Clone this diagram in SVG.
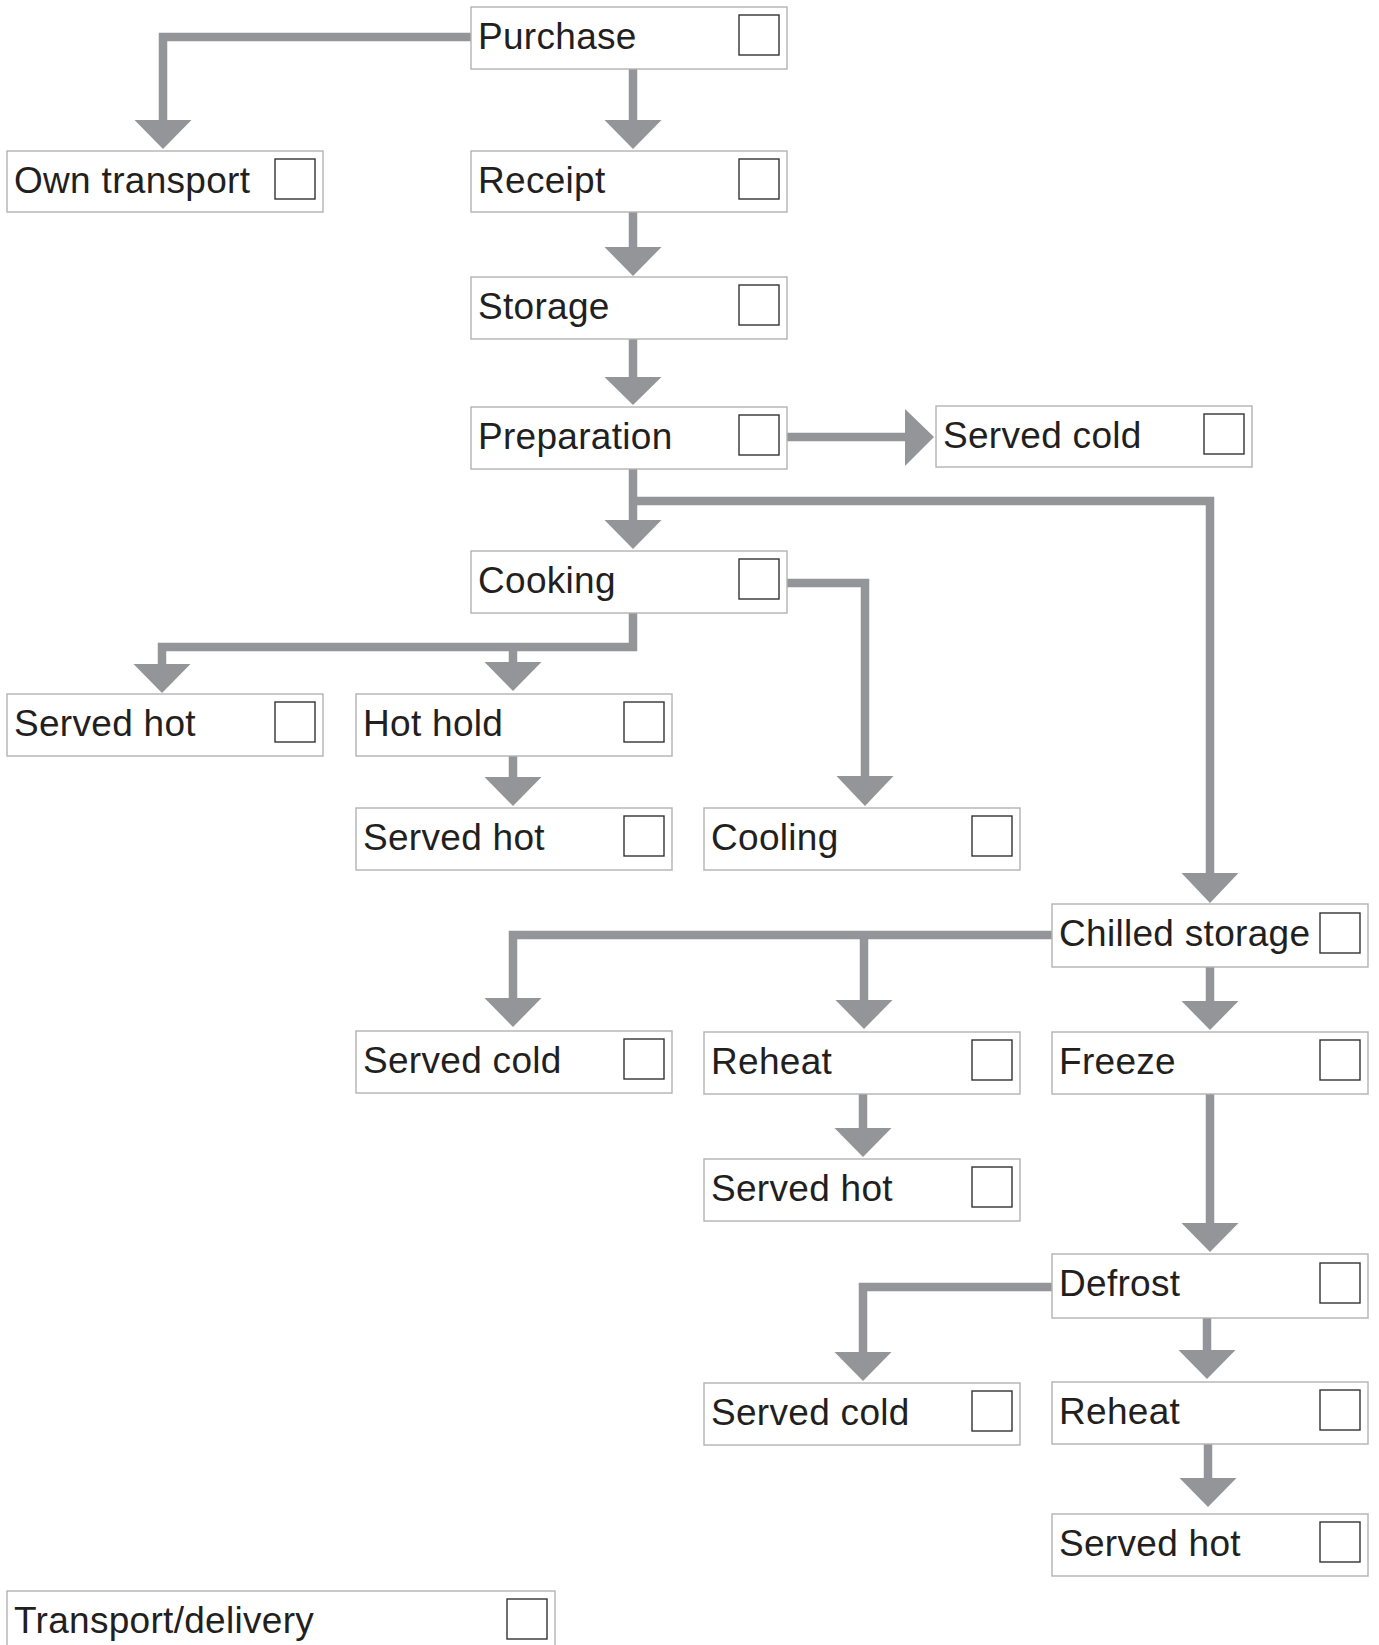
<svg xmlns="http://www.w3.org/2000/svg" width="1379" height="1645" viewBox="0 0 1379 1645">
<style>
.box{fill:#fff;stroke:#b3b3b3;stroke-width:1.4}
.chk{fill:#fff;stroke:#333;stroke-width:1.4}
.lbl{font-family:"Liberation Sans",Arial,sans-serif;font-size:37px;letter-spacing:0.3px;fill:#231f20}
.ln{fill:none;stroke:#939598;stroke-width:8.5;stroke-linejoin:miter}
.ah{fill:#939598}
</style>
<rect width="1379" height="1645" fill="#fff"/>
<g id="connectors">
<path class="ln" d="M471,37 H163 V121"/><polygon class="ah" points="134.5,120 191.5,120 163,149"/>
<path class="ln" d="M633,69 V121"/><polygon class="ah" points="604.5,120 661.5,120 633,149"/>
<path class="ln" d="M633,212 V248"/><polygon class="ah" points="604.5,247 661.5,247 633,276"/>
<path class="ln" d="M633,339 V378"/><polygon class="ah" points="604.5,377 661.5,377 633,405"/>
<path class="ln" d="M787,437 H907"/><polygon class="ah" points="905,409 905,466 934,437"/>
<path class="ln" d="M633,469 V521"/><polygon class="ah" points="604.5,520 661.5,520 633,549"/>
<path class="ln" d="M633,501 H1210 V874"/><polygon class="ah" points="1181.5,873 1238.5,873 1210,903"/>
<path class="ln" d="M633,613 V647 H162 V665"/><polygon class="ah" points="133.5,664 190.5,664 162,693"/>
<path class="ln" d="M513,647 V663"/><polygon class="ah" points="484.5,662 541.5,662 513,691"/>
<path class="ln" d="M787,583 H865 V777"/><polygon class="ah" points="836.5,776 893.5,776 865,806"/>
<path class="ln" d="M513,756 V778"/><polygon class="ah" points="484.5,777 541.5,777 513,806"/>
<path class="ln" d="M1052,935 H513 V999"/><polygon class="ah" points="484.5,998 541.5,998 513,1027"/>
<path class="ln" d="M864,935 V1001"/><polygon class="ah" points="835.5,1000 892.5,1000 864,1029"/>
<path class="ln" d="M1210,967 V1002"/><polygon class="ah" points="1181.5,1001 1238.5,1001 1210,1030"/>
<path class="ln" d="M863,1094 V1129"/><polygon class="ah" points="834.5,1128 891.5,1128 863,1157"/>
<path class="ln" d="M1210,1094 V1224"/><polygon class="ah" points="1181.5,1223 1238.5,1223 1210,1252"/>
<path class="ln" d="M1052,1287 H863 V1353"/><polygon class="ah" points="834.5,1352 891.5,1352 863,1381"/>
<path class="ln" d="M1207,1318 V1351"/><polygon class="ah" points="1178.5,1350 1235.5,1350 1207,1379"/>
<path class="ln" d="M1208,1444 V1479"/><polygon class="ah" points="1179.5,1478 1236.5,1478 1208,1507"/>
</g>
<g id="n-purchase"><rect class="box" x="471" y="7" width="316" height="62"/><rect class="chk" x="739" y="15" width="40" height="40"/><text class="lbl" x="478" y="49">Purchase</text></g>
<g id="n-own-transport"><rect class="box" x="7" y="151" width="316" height="61"/><rect class="chk" x="275" y="159" width="40" height="40"/><text class="lbl" x="14" y="193">Own transport</text></g>
<g id="n-receipt"><rect class="box" x="471" y="151" width="316" height="61"/><rect class="chk" x="739" y="159" width="40" height="40"/><text class="lbl" x="478" y="193">Receipt</text></g>
<g id="n-storage"><rect class="box" x="471" y="277" width="316" height="62"/><rect class="chk" x="739" y="285" width="40" height="40"/><text class="lbl" x="478" y="319">Storage</text></g>
<g id="n-preparation"><rect class="box" x="471" y="407" width="316" height="62"/><rect class="chk" x="739" y="415" width="40" height="40"/><text class="lbl" x="478" y="449">Preparation</text></g>
<g id="n-served-cold-1"><rect class="box" x="936" y="406" width="316" height="61"/><rect class="chk" x="1204" y="414" width="40" height="40"/><text class="lbl" x="943" y="448">Served cold</text></g>
<g id="n-cooking"><rect class="box" x="471" y="551" width="316" height="62"/><rect class="chk" x="739" y="559" width="40" height="40"/><text class="lbl" x="478" y="593">Cooking</text></g>
<g id="n-served-hot-1"><rect class="box" x="7" y="694" width="316" height="62"/><rect class="chk" x="275" y="702" width="40" height="40"/><text class="lbl" x="14" y="736">Served hot</text></g>
<g id="n-hot-hold"><rect class="box" x="356" y="694" width="316" height="62"/><rect class="chk" x="624" y="702" width="40" height="40"/><text class="lbl" x="363" y="736">Hot hold</text></g>
<g id="n-served-hot-2"><rect class="box" x="356" y="808" width="316" height="62"/><rect class="chk" x="624" y="816" width="40" height="40"/><text class="lbl" x="363" y="850">Served hot</text></g>
<g id="n-cooling"><rect class="box" x="704" y="808" width="316" height="62"/><rect class="chk" x="972" y="816" width="40" height="40"/><text class="lbl" x="711" y="850">Cooling</text></g>
<g id="n-chilled-storage"><rect class="box" x="1052" y="904" width="316" height="63"/><rect class="chk" x="1320" y="913" width="40" height="40"/><text class="lbl" x="1059" y="946">Chilled storage</text></g>
<g id="n-served-cold-2"><rect class="box" x="356" y="1031" width="316" height="62"/><rect class="chk" x="624" y="1039" width="40" height="40"/><text class="lbl" x="363" y="1073">Served cold</text></g>
<g id="n-reheat-1"><rect class="box" x="704" y="1032" width="316" height="62"/><rect class="chk" x="972" y="1040" width="40" height="40"/><text class="lbl" x="711" y="1074">Reheat</text></g>
<g id="n-freeze"><rect class="box" x="1052" y="1032" width="316" height="62"/><rect class="chk" x="1320" y="1040" width="40" height="40"/><text class="lbl" x="1059" y="1074">Freeze</text></g>
<g id="n-served-hot-3"><rect class="box" x="704" y="1159" width="316" height="62"/><rect class="chk" x="972" y="1167" width="40" height="40"/><text class="lbl" x="711" y="1201">Served hot</text></g>
<g id="n-defrost"><rect class="box" x="1052" y="1254" width="316" height="64"/><rect class="chk" x="1320" y="1263" width="40" height="40"/><text class="lbl" x="1059" y="1296">Defrost</text></g>
<g id="n-served-cold-3"><rect class="box" x="704" y="1383" width="316" height="62"/><rect class="chk" x="972" y="1391" width="40" height="40"/><text class="lbl" x="711" y="1425">Served cold</text></g>
<g id="n-reheat-2"><rect class="box" x="1052" y="1382" width="316" height="62"/><rect class="chk" x="1320" y="1390" width="40" height="40"/><text class="lbl" x="1059" y="1424">Reheat</text></g>
<g id="n-served-hot-4"><rect class="box" x="1052" y="1514" width="316" height="62"/><rect class="chk" x="1320" y="1522" width="40" height="40"/><text class="lbl" x="1059" y="1556">Served hot</text></g>
<g id="n-transport-delivery"><rect class="box" x="7" y="1591" width="548" height="62"/><rect class="chk" x="507" y="1599" width="40" height="40"/><text class="lbl" x="14" y="1633">Transport/delivery</text></g>
</svg>
